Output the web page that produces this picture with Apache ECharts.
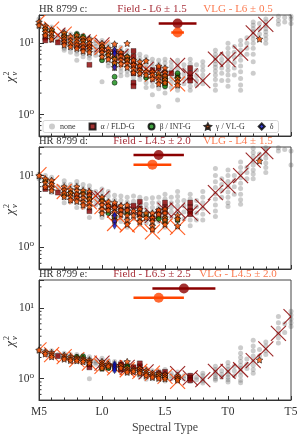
<!DOCTYPE html>
<html><head><meta charset="utf-8">
<script src="https://cdn.jsdelivr.net/npm/echarts@6/dist/echarts.min.js"></script>
<style>html,body{margin:0;padding:0;background:#fff}#c{width:303px;height:434px}</style>
</head><body><div id="c"></div>
<script>
const FONT = "'Liberation Serif','DejaVu Serif',serif";
const objects = ['HR 8799 c:', 'HR 8799 d:', 'HR 8799 e:'];
const fieldLabels = ['Field - L6 \u00b1 1.5', 'Field - L4.5 \u00b1 2.0', 'Field - L6.5 \u00b1 2.5'];
const vlgLabels = ['VLG - L6 \u00b1 0.5', 'VLG - L4 \u00b1 1.5', 'VLG - L4.5 \u00b1 2.0'];
// [spectral type, uncertainty, plotted level]
const fieldBest = [[16, 1.5, 19], [14.5, 2.0, 19.3], [16.5, 2.5, 18.9]];
const vlgBest = [[16, 0.5, 14.2], [14, 1.5, 14.2], [14.5, 2.0, 14.0]];
const xTickLabels = {5: 'M5', 10: 'L0', 15: 'L5', 20: 'T0', 25: 'T5'};
const yMinorTicks = [0.6, 0.7, 0.8, 0.9, 2, 3, 4, 5, 6, 7, 8, 9, 20];
const legendNames = ['none', '\u03b1 / FLD-G', '\u03b2 / INT-G', '\u03b3 / VL-G', '\u03b4'];

// ---------- HR 8799 c ----------
const noneC = [[5,[22,20,18.5,17]],[5.5,[18,16.5,15,13.5,12.5]],[6,[17,15,14,13,12,11]],[6.5,[13,11.5,10.5]],
[7,[15,13.5,12,11,10,9.5,8.5,8]],[7.5,[13.5,12,11,10,9.2,8.5,7.5]],[8,[14,12.5,11,10,9.3,8.5,7.8,7,5.8]],
[8.5,[13,11.5,10.5,9.5,8.8,8,7.2,6.5]],[9,[12,11,10,9,8.3,7.5,6.8,6.2]],[9.5,[11,10,9,8.2,7.5,6.8]],
[10,[11,10,9.2,8.4,7.6,7,6.3,5.7,2.9]],[10.5,[10,9,8,7.3,6.6,6,5.4,4.8]],[11,[9.5,8.5,7.5,6.8,6.1,5.5,5,4.4]],
[11.5,[8.8,7.8,7,6.3,5.6,5,4.5,4,3.5]],[12,[8,7.2,6.4,5.7,5.1,4.6,4.1,3.6]],[12.5,[7.6,6.8,6,5.4,4.8,4.3,3.8,3.3,2.9]],
[13,[7,6.2,5.5,4.9,4.4,3.9,3.5,3.1]],[13.5,[6.5,5.7,5.1,4.5,4,3.6,3.2,2.8,2.4]],[14,[6,5.3,4.7,4.1,3.7,3.3,2.9,2.5,1.9]],
[14.5,[5.8,5.1,4.5,4,3.5,3.1,2.7,2.3,1.3]],[15,[6,5.3,4.6,4,3.5,3.1,2.7,2.4,2]],[15.5,[5.5,4.8,4.2,3.7,3.2,2.8,2.4]],
[16,[5.8,5,4.4,3.8,3.3,2.9,2.5,2.2,1.6]],[16.5,[5,4.3,3.7,3.2,2.7]],[17,[6,5.2,4.5,3.9,3.4,2.9,2.5,2.2]],
[17.5,[5,4.2,3.5,3,2.6]],[18,[5.5,4.8,4.2,3.6,3.1,2.7]],[19,[8,7,6.3,5.7,5.1,4.6,4.1,3.6,3.1,2.6,2.2]],
[19.5,[7,6,5.2,4.5,3.8,3]],[20,[10,8.5,7.3,6.4,5.6,4.8,4.2,3.6,3,2.5]],[20.5,[9,7.5,6.4,5.4,4.5,3.6]],
[21,[11,9.5,8,6.8,5.8,4.8,4,3.2,2.6,2.2]],[21.5,[12,10,8.5,7]],[22,[20,18,16,14.5,13,11.5,10,8.5,7,5.5,3.8]],
[22.5,[19,16,13.5]],[23,[22,20,18,16,14.5,13,11.5,10]],[24,[24,21,18.5]],[24.5,[23,20]],[25,[24,22,19]]];
const alphaC = [[5.5,12],[5.5,11],[6.5,10.3],[7,10.5],[8,9],[8.5,8.5],[9,5],[9,9],[10,8],[11,7.5],[11.5,7.2],[12,6],
[12.5,7.8],[12.5,6.5],[12.5,5.5],[12.5,4.8],[12.5,3.8],[12.5,2.8],[12.5,2.5],[13,4.5],[14,4.2],[14.5,4.5],[15,3.8],
[15,3.3],[15,2.8],[15.5,3.8],[16,3.5],[17,4.5],[17,3.8],[17,3.3],[17,3.0]];
const betaC = [[5.5,16],[6,15],[7,13.5],[7,12.5],[8,13.5],[8,12.5],[8.5,12.5],[8.5,11],[10,9],[10,5.8],[10.5,7],[11,6.3],
[11,5.2],[11,3.4],[11,2.8],[12,6.5],[12,6],[13.5,3.3],[14.5,3.6],[15,3.3],[15,3],[15,2.7],[15,2.5],[16,3.8],[16,3.3]];
const gammaC = [[5,[20,18]],[5.5,[17.5,16,14.5,13]],[6,[15.5,14,12.5,11.5]],[7,[14,12.5,11.5,10.5,9.5]],[7.5,[12.5,11,10,9]],
[8,[13,11.5,10.5,9.5,8.5]],[8.5,[12,10.8,9.8,8.8,7.8]],[9,[11.5,10,9,8.2,7.5]],[10,[10,9,8.2,7.4,6.5]],[10.5,[8.5,7.5,6.8,6]],
[11,[9.8,8,7,6,5.3,4.6]],[11.5,[7.5,6.6,5.8,5.2]],[12,[10,6.5,5.8,5.2,4.6]],[12.5,[5.8,5,4.4,3.9]],[13,[5.5,4.8,4.2,3.8]],
[13.5,[5.7,4,3.6]],[14,[4,3.6,3.2]],[14.5,[4.8,3.8,3.4,3,2.7]],[15,[4.5,3.9,3.5,3.1,2.8]],[16,[3.2,2.9,2.6]],[22.5,[11.5]]];
const deltaC = [[11,8],[11,7.2],[11,4.6]];
const xFieldC = [[6.5,13],[8.5,10.5],[10,9.5],[11.5,6.5],[13.5,4.3],[14.5,3.6],[16,4.9],[17,3.5],[18,3.0],[19,6.0],[20,5.9],[21,7.3],[22,14],[23,18.5]];
const xVlgC = [[5,20.5],[6,15.8],[7,13.5],[8,10.9],[9,10.3],[10,8.8],[11,7.1],[12,5.7],[13,4.6],[14,3.7],[15,3.2],[16,2.7]];

// ---------- HR 8799 d ----------
const noneD = [[5,[10.5,9.8,9]],[5.5,[10,9,8.2,7.4,6.6]],[6,[9.5,8.6,7.8,7,6.3,5.8]],[6.5,[7,6.2]],
[7,[8.5,7.6,6.8,6.1,5.5,4.9,4.2]],[7.5,[7.5,6.7,6,5.4,4.8,4.3]],[8,[8.3,7.4,6.6,5.9,5.3,4.7,4.2,3.6]],
[8.5,[7.5,6.6,5.9,5.2,4.6,4.1,3.6]],[9,[7.2,6.4,5.7,5,4.4,3.9,3.4,2.6]],[9.5,[6,5.2,4.5,3.9]],
[10,[6.5,5.7,5,4.4,3.9,3.4,3,2.6]],[10.5,[6,5.2,4.5,3.9,3.4,3]],[11,[5.3,4.6,4,3.5,3.1,2.7,2.4,2.1]],
[11.5,[5.2,4.5,3.9,3.4,3,2.6,2.3]],[12,[5,4.3,3.8,3.3,2.9,2.5,2.2,1.9]],[12.5,[5.2,4.4,3.8,3.3,2.9,2.5]],
[13,[5,4.3,3.7,3.2,2.8,2.4,2.1]],[13.5,[4.8,4,3.5,3,2.6,2.2]],[14,[4.9,4.2,3.6,3.1,2.7,2.3,2,1.75]],
[14.5,[5,4.2,3.6,3.1,2.7,2.3]],[15,[5.5,4.7,4,3.5,3,2.6,2.2,1.9]],[15.5,[5,4.2,3.6,3.1,2.6]],
[16,[6,5.1,4.4,3.8,3.2,2.7,2.3,1.9]],[16.5,[4.5,3.8,3.1,2.5]],[17,[5.5,4.7,4,3.4,2.9,2.4,2]],[17.5,[4.5,3.7,3,2.4]],
[18,[6,5,4.2,3.5,2.9,2.4]],[19,[12.5,10,8.2,6.8,5.6,4.7,3.9,3.2,2.7]],[19.5,[9,7.5,6.2,5]],
[20,[12,10,8.3,7,5.9,5,4.2,3.7]],[20.5,[10,8.5,7,5.5]],[21,[15.5,13,11,9.3,7.8,6.6,5.5,4.6,4]],[21.5,[13,11,9]],
[22,[24,21,18.5,16,14,12,10.5,9]],[22.5,[20,17]],[23,[24.5,23,20,17.5,15,13,11]],[24,[24.5,22]],[24.5,[23]],[25,[22,14]]];
const alphaD = [[5.5,6.5],[6.5,5.8],[8,5.2],[9,3.2],[9,5.5],[10.5,3.6],[11,3.8],[11.5,3.3],[12,3.4],[12.5,3.8],[13,3.5],
[13,2.9],[13,4.3],[14,2.5],[14.5,2.7],[14.5,3.2],[15,4.2],[15,3.6],[15,3.1],[17,4.2],[17,3.6],[17,3.2],[17,2.9]];
const betaD = [[5.5,8.5],[7,5.3],[7.5,5.8],[8.5,5.8],[9,4.8],[10,4.6],[10.5,3.0],[11,2.6],[12,3.0],[13.5,2.85],[14.5,2.5],
[15,2.3],[15,2.5],[16,2.4]];
const gammaD = [[5,[10]],[5.5,[9,8,7]],[6,[8.6,7.6,6.8,6.2]],[7,[7,6.3,5.7,5.1]],[7.5,[6.4,5.7,5.1,4.6]],[8,[7,6.2,5.5,4.9,4.4]],
[8.5,[6.2,5.5,4.9,4.3,3.9]],[9,[6,5.3,4.7,4.2,3.7]],[10,[5,4.4,3.9,3.4,3.0]],[10.5,[4.3,3.8,3.3]],[11,[4.2,3.6,3.1,2.7,2.4]],
[11.5,[3.8,3.3,2.9]],[12,[3.9,3.3,2.8,2.4,2.1]],[12.5,[3.2,2.8]],[13,[3.4,3,2.6,2.3]],[13.5,[3,2.6]],[14,[3.0,2.6,2.3,2.0,1.8]],
[14.5,[3.3,2.9]],[15,[3.4,3,2.6,2.4,2.1]],[16,[2.8,2.5,2.0]],[22.5,[16]]];
const deltaD = [[11,2.8],[11,2.3],[11,2.0]];
const xFieldD = [[9.5,5.2],[10,4.8],[11,3.3],[12.5,3.3],[14,2.8],[15,3.3],[16,3.3],[17,3.0],[18,3.7],[19,5.8],[20,7.2],[21,10],[22,16.4],[23,21.5]];
const xVlgD = [[5,10.3],[6,7.9],[7,6.0],[8,5.1],[9,4.3],[10,3.7],[11,2.15],[12,2.05],[13,2.1],[14,1.65],[15,2.0],[16,1.9]];

// ---------- HR 8799 e ----------
const noneE = [[5,[2.6,2.5]],[5.5,[2.5,2.35,2.25]],[6,[2.5,2.3,2.15,2.0]],[6.5,[2.2,2.05]],[7,[2.3,2.15,2.0,1.9]],
[7.5,[2.2,2.05,1.9,1.8]],[8,[2.2,2.05,1.95,1.85,1.75]],[8.5,[2.15,2.0,1.9,1.8,1.7]],[9,[2.05,1.9,1.8,1.7,1.6,1.5,1.0]],
[9.5,[1.8,1.7,1.6]],[10,[1.95,1.8,1.7,1.6,1.5,1.4]],[10.5,[1.8,1.7,1.6,1.5,1.4]],[11,[1.75,1.65,1.55,1.45,1.35,1.3]],
[11.5,[1.7,1.6,1.5,1.4,1.3]],[12,[1.65,1.55,1.45,1.35,1.27,1.2]],[12.5,[1.5,1.4,1.32,1.25]],
[13,[1.5,1.4,1.3,1.22,1.15,1.08]],[13.5,[1.4,1.3,1.2,1.12,1.05,0.98]],[14,[1.3,1.22,1.15,1.08,1.0]],
[14.5,[1.3,1.2,1.12,1.05,0.98]],[15,[1.35,1.25,1.15,1.07,1.0,0.93]],[15.5,[1.2,1.1,1.0]],[16,[1.25,1.15,1.07,1.0,0.93]],
[16.5,[1.1,1.0]],[17,[1.12,1.05,0.98,0.92]],[17.5,[1.05,0.97]],[18,[1.2,1.1,1.0,0.93,0.87]],
[19,[1.5,1.35,1.25,1.15,1.07,1.0,0.95]],[19.5,[1.3,1.15,1.05]],[20,[1.7,1.5,1.35,1.25,1.15,1.05,0.97,0.9]],
[20.5,[1.5,1.3,1.1]],[21,[2.75,2.3,2.0,1.75,1.55,1.4,1.25,1.1,0.95,0.88]],[21.5,[1.9,1.6,1.4]],
[22,[3.5,2.9,2.5,2.1,1.8,1.55,1.35,1.2]],[22.5,[2.6,2.1]],[23,[3.3,2.9,2.5,2.2]],[24,[7.6,6.2,5.2,4.4,3.8,3.2]],
[24.5,[6,4.5]],[25,[9,8,7,6.2,5.5]]];
const alphaE = [[6.5,2.1],[9,1.6],[9,1.45],[10.5,1.5],[11.5,1.6],[11.5,1.45],[11.5,1.35],[12.5,1.45],[13,1.65],[13,1.5],
[13,1.35],[14.5,1.2],[15,1.25],[15,1.12],[17,1.1],[17,1.02],[17,0.95]];
const betaE = [[8,2.05],[8.5,2.07],[10,1.38],[10.5,1.42],[12,1.52],[12,1.45],[14.5,1.12],[15,1.03],[16,1.0]];
const gammaE = [[5,[2.55]],[5.5,[2.4,2.25]],[6,[2.35,2.2,2.05]],[7,[2.15,2.0,1.9]],[7.5,[2.05,1.92,1.82]],[8,[2.0,1.9,1.8]],
[8.5,[1.95,1.85,1.75]],[9,[1.85,1.75,1.65]],[10,[1.75,1.62,1.52,1.42]],[10.5,[1.6,1.5]],[11,[1.55,1.45]],[11.5,[1.55,1.42]],
[12,[1.75,1.42,1.32,1.24]],[12.5,[1.35,1.27]],[13,[1.4,1.28,1.2]],[13.5,[1.3,1.2,1.12]],[14,[1.2,1.12,1.05]],
[14.5,[1.18,1.1,1.02]],[15,[1.15,1.07,1.0]],[16,[1.1,1.02,0.96]],[22.5,[1.85]]];
const deltaE = [[11,1.62],[11,1.52],[11,1.42],[11,1.32]];
const xFieldE = [[10,1.66],[12,1.45],[13.5,1.25],[16,1.18],[17,1.03],[18,0.97],[19,1.27],[20,1.27],[21,1.34],[22,1.8],[23,2.65],[24,4.4],[25,7.6]];
const xVlgE = [[5,2.57],[6,2.2],[7,2.05],[8,1.86],[9,1.66],[10,1.5],[11,1.42],[12,1.34],[13,1.27],[14,1.2],[15,1.08],[16,0.92]];

const cols = c => c.flatMap(([x, vs]) => vs.map(v => [x, v]));
const panels = [
  {none: cols(noneC), alpha: alphaC, beta: betaC, gamma: cols(gammaC), delta: deltaC, xf: xFieldC, xv: xVlgC},
  {none: cols(noneD), alpha: alphaD, beta: betaD, gamma: cols(gammaD), delta: deltaD, xf: xFieldD, xv: xVlgD},
  {none: cols(noneE), alpha: alphaE, beta: betaE, gamma: cols(gammaE), delta: deltaE, xf: xFieldE, xv: xVlgE}
];

const FIELD = '#8B0000', VLG = '#FF4500';
const STAR = 'path://M0,-10L2.94,-4.05L9.51,-3.09L4.76,1.55L5.88,8.09L0,5L-5.88,8.09L-4.76,1.55L-9.51,-3.09L-2.94,-4.05Z';
const gridPos = [{top: 15, height: 121}, {top: 147, height: 122}, {top: 280, height: 120}];

const grid = [], xAxis = [], yAxis = [], series = [], graphic = [];
gridPos.forEach((g, i) => {
  grid.push({left: 39, right: 12, top: g.top, height: g.height, show: true, borderColor: '#444', borderWidth: 1,
    backgroundColor: 'transparent', containLabel: false, outerBoundsMode: 'none'});
  xAxis.push({type: 'value', gridIndex: i, min: 5, max: 25, interval: 5,
    axisLine: {show: true, lineStyle: {color: '#333', width: 1}},
    axisTick: {show: true, inside: true, length: 4, lineStyle: {color: '#333'}},
    minorTick: {show: true, splitNumber: 5, length: 2.5, lineStyle: {color: '#333'}},
    splitLine: {show: false},
    axisLabel: {show: i === 2, formatter: v => xTickLabels[v] || '', fontFamily: FONT, fontSize: 11.5, color: '#333', margin: 6},
    name: i === 2 ? 'Spectral Type' : '', nameLocation: 'middle', nameGap: 22,
    nameTextStyle: {fontFamily: FONT, fontSize: 12, color: '#444'}});
  yAxis.push({type: 'log', logBase: 10, gridIndex: i, min: 0.5, max: 25,
    axisLine: {show: true, lineStyle: {color: '#333', width: 1}},
    axisTick: {show: true, inside: true, length: 5, lineStyle: {color: '#333'}},
    splitLine: {show: false}, minorTick: {show: false},
    axisLabel: {fontFamily: FONT, fontSize: 11.5, color: '#333', margin: 5,
      formatter: v => Math.abs(v - 1) < 1e-6 ? '10\u2070' : (Math.abs(v - 10) < 1e-6 ? '10\u00b9' : '')}});

  const p = panels[i];
  series.push({type: 'scatter', name: legendNames[0], xAxisIndex: i, yAxisIndex: i, data: p.none, symbol: 'circle', symbolSize: 5,
    itemStyle: {color: 'rgba(80,80,80,0.36)'}, z: 1, silent: true});
  const xs = (data, color, lw) => ({type: 'custom', xAxisIndex: i, yAxisIndex: i, data, z: 2, silent: true, clip: true,
    renderItem: (params, api) => {
      const c = api.coord([api.value(0), api.value(1)]); const h = 7.5;
      return {type: 'group', children: [
        {type: 'line', shape: {x1: c[0] - h, y1: c[1] - h, x2: c[0] + h, y2: c[1] + h}, style: {stroke: color, lineWidth: lw}},
        {type: 'line', shape: {x1: c[0] - h, y1: c[1] + h, x2: c[0] + h, y2: c[1] - h}, style: {stroke: color, lineWidth: lw}}]};
    }});
  series.push(xs(p.xf, 'rgba(139,0,0,0.85)', 1.1));
  series.push(xs(p.xv, 'rgba(255,69,0,0.85)', 1.1));
  series.push({type: 'scatter', name: legendNames[1], xAxisIndex: i, yAxisIndex: i, data: p.alpha, symbol: 'rect', symbolSize: 5,
    itemStyle: {color: FIELD, borderColor: '#000', borderWidth: 0.4}, z: 3, silent: true});
  series.push({type: 'scatter', name: legendNames[2], xAxisIndex: i, yAxisIndex: i, data: p.beta, symbol: 'circle', symbolSize: 5,
    itemStyle: {color: '#138a13', borderColor: '#000', borderWidth: 0.6}, z: 4, silent: true});
  series.push({type: 'scatter', name: legendNames[3], xAxisIndex: i, yAxisIndex: i, data: p.gamma, symbol: STAR, symbolSize: 6.5,
    itemStyle: {color: '#FF5A0A', borderColor: '#000', borderWidth: 0.7}, z: 5, silent: true});
  series.push({type: 'scatter', name: legendNames[4], xAxisIndex: i, yAxisIndex: i, data: p.delta, symbol: 'diamond', symbolSize: [4, 7],
    itemStyle: {color: '#0a14d0', borderColor: '#000', borderWidth: 0.4}, z: 5, silent: true});
  // minor log ticks
  series.push({type: 'custom', xAxisIndex: i, yAxisIndex: i, data: yMinorTicks.map(v => [5, v]), z: 6, silent: true,
    renderItem: (params, api) => {
      const c = api.coord([api.value(0), api.value(1)]);
      return {type: 'line', shape: {x1: c[0], y1: c[1], x2: c[0] + 2.5, y2: c[1]}, style: {stroke: '#333', lineWidth: 1}};
    }});
  // best types with uncertainties
  [[fieldBest[i], FIELD], [vlgBest[i], VLG]].forEach(([b, col]) => {
    series.push({type: 'line', xAxisIndex: i, yAxisIndex: i, data: [[b[0] - b[1], b[2]], [b[0] + b[1], b[2]]], symbol: 'none',
      lineStyle: {color: col, width: 2.5}, z: 7, silent: true, animation: false});
    series.push({type: 'scatter', xAxisIndex: i, yAxisIndex: i, data: [[b[0], b[2]]], symbol: 'circle', symbolSize: 10,
      itemStyle: {color: col}, z: 8, silent: true});
  });

  const ty = g.top - 5.5;
  graphic.push({type: 'text', x: 39, y: ty, style: {text: objects[i], font: '10.5px ' + FONT, fill: '#333', align: 'left', verticalAlign: 'middle'}});
  graphic.push({type: 'text', x: 152, y: ty, style: {text: fieldLabels[i], font: '11px ' + FONT, fill: '#a8303a', align: 'center', verticalAlign: 'middle'}});
  graphic.push({type: 'text', x: 238, y: ty, style: {text: vlgLabels[i], font: '11px ' + FONT, fill: '#fb7a50', align: 'center', verticalAlign: 'middle'}});
  const cy = g.top + g.height / 2 + 4;
  graphic.push({type: 'group', x: 11, y: cy, rotation: Math.PI / 2, children: [
    {type: 'text', x: 0, y: 0, style: {text: '\u03c7', font: 'italic 13px ' + FONT, fill: '#333', align: 'center', verticalAlign: 'middle'}},
    {type: 'text', x: 4, y: -4, style: {text: '2', font: '8px ' + FONT, fill: '#333', align: 'left', verticalAlign: 'middle'}},
    {type: 'text', x: 4, y: 4, style: {text: '\u03bd', font: 'italic 8.5px ' + FONT, fill: '#333', align: 'left', verticalAlign: 'middle'}}
  ]});
});

const chart = echarts.init(document.getElementById('c'), null, {renderer: 'canvas'});
chart.setOption({
  animation: false,
  backgroundColor: '#fff',
  grid, xAxis, yAxis, series, graphic,
  legend: {show: true, left: 43, top: 120.5, orient: 'horizontal', data: [
      {name: legendNames[0], icon: 'circle'}, {name: legendNames[1], icon: 'rect'}, {name: legendNames[2], icon: 'circle'},
      {name: legendNames[3], icon: STAR}, {name: legendNames[4], icon: 'diamond'}],
    itemWidth: 6, itemHeight: 6, itemGap: 13, padding: [2, 5, 2, 6],
    borderColor: '#ccc', borderWidth: 0.8, borderRadius: 2, backgroundColor: 'rgba(255,255,255,0.85)',
    textStyle: {fontFamily: FONT, fontSize: 8, color: '#333'}, selectedMode: false}
});
</script></body></html>
